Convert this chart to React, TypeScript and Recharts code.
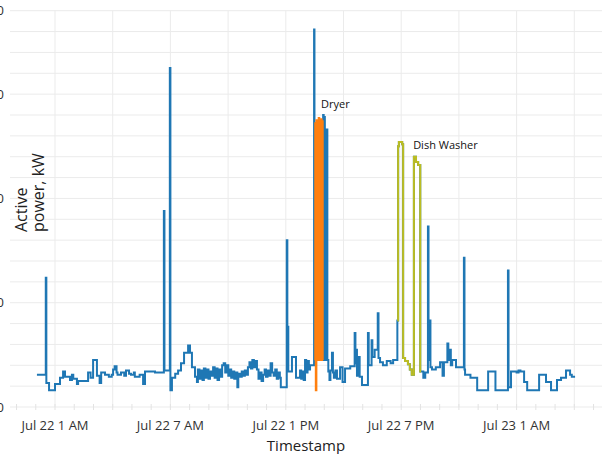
import React from 'react';
import { LineChart, Line, XAxis, YAxis, CartesianGrid, ReferenceLine, ReferenceDot, Label } from 'recharts';

const FONT = '"Open Sans", sans-serif';

// time: hours since Jul 22 00:00 ; power: kW
const nightSeg: [number, number][] = [
  [0.06, 0.31], [0.52, 1.24], [0.55, 0.23], [0.69, 0.16], [1.0, 0.22], [1.26, 0.28], [1.42, 0.34], [1.52, 0.29],
  [1.78, 0.26], [1.88, 0.31], [1.95, 0.27], [2.14, 0.22], [2.2, 0.25], [2.72, 0.33], [2.85, 0.28], [2.98, 0.45],
  [3.18, 0.3], [3.32, 0.23], [3.4, 0.33], [3.6, 0.31], [3.8, 0.29], [3.95, 0.31], [4.02, 0.36], [4.1, 0.39],
  [4.2, 0.33], [4.25, 0.31], [4.43, 0.33], [4.6, 0.3], [4.69, 0.35], [4.85, 0.32], [4.95, 0.31], [5.1, 0.33],
  [5.15, 0.29], [5.4, 0.31], [5.58, 0.22], [5.68, 0.34], [6.2, 0.33], [6.66, 1.88], [6.69, 0.35], [6.97, 3.25],
  [7.0, 0.16], [7.08, 0.28], [7.25, 0.32], [7.4, 0.35], [7.55, 0.42], [7.71, 0.52], [7.92, 0.59], [8.02, 0.52],
  [8.12, 0.38], [8.28, 0.29], [8.38, 0.24],
];

const daySeg: [number, number][] = [
  [8.43, 0.36], [8.51, 0.27], [8.59, 0.35], [8.67, 0.26], [8.74, 0.37], [8.82, 0.28], [8.9, 0.36], [8.98, 0.27],
  [9.06, 0.34], [9.14, 0.3], [9.22, 0.38], [9.3, 0.28], [9.37, 0.37], [9.45, 0.26], [9.53, 0.36], [9.61, 0.29],
  [9.69, 0.4], [9.77, 0.42], [9.85, 0.33], [9.93, 0.4], [10.01, 0.3], [10.08, 0.36], [10.16, 0.28], [10.24, 0.34],
  [10.32, 0.27], [10.4, 0.33], [10.48, 0.19], [10.53, 0.32], [10.63, 0.29], [10.71, 0.34], [10.79, 0.3], [10.87, 0.35],
  [10.95, 0.31], [11.03, 0.38], [11.11, 0.43], [11.19, 0.37], [11.26, 0.45], [11.34, 0.38], [11.42, 0.44], [11.5, 0.36],
  [11.58, 0.27], [11.66, 0.33], [11.74, 0.25], [11.82, 0.31], [11.9, 0.36], [11.97, 0.29], [12.05, 0.35], [12.13, 0.3],
  [12.21, 0.42], [12.29, 0.33], [12.37, 0.3], [12.45, 0.36], [12.53, 0.27], [12.61, 0.33], [12.69, 0.28], [12.74, 0.19],
  [13.05, 1.6], [13.08, 0.34], [13.1, 0.77], [13.13, 0.34], [13.32, 0.48], [13.53, 0.28], [13.74, 0.35], [13.8, 0.27],
  [13.87, 0.34], [13.93, 0.26], [14.0, 0.45], [14.06, 0.33], [14.13, 0.44], [14.2, 0.36], [14.26, 0.4],
];

const dryerTotalSeg: [number, number][] = [
  [14.47, 3.62], [14.49, 0.45], [14.52, 2.7], [14.55, 0.45], [14.58, 2.72], [14.61, 0.45], [14.64, 2.71], [14.67, 0.45],
  [14.7, 2.74], [14.73, 0.45], [14.76, 2.7], [14.79, 0.45], [14.82, 2.73], [14.85, 0.45], [14.88, 2.72], [14.91, 0.45],
  [14.94, 2.8], [14.97, 0.46], [15.0, 2.78], [15.03, 0.45], [15.06, 2.66], [15.09, 0.46], [15.12, 2.66], [15.16, 0.45],
];

const afternoonSeg: [number, number][] = [
  [15.21, 0.34], [15.27, 0.26], [15.32, 0.35], [15.4, 0.52], [15.45, 0.33], [15.5, 0.28], [15.58, 0.35], [15.66, 0.27],
  [15.82, 0.38], [15.95, 0.24], [16.08, 0.37], [16.35, 0.39], [16.58, 0.71], [16.62, 0.42], [16.66, 0.55], [16.7, 0.3],
  [16.78, 0.48], [16.84, 0.29], [16.96, 0.21], [17.27, 0.71], [17.31, 0.4], [17.46, 0.64], [17.5, 0.48], [17.62, 0.55],
  [17.78, 0.9], [17.82, 0.47], [17.9, 0.43], [18.05, 0.4], [18.25, 0.44], [18.45, 0.42], [18.58, 0.45],
];

const washerSeg: [number, number][] = [
  [18.8, 0.83], [18.84, 2.5], [18.88, 2.54], [19.05, 2.52], [19.1, 0.47], [19.2, 0.44], [19.35, 0.41], [19.45, 0.36],
  [19.55, 0.31], [19.66, 2.4], [19.77, 2.35], [19.88, 2.32], [19.99, 0.34], [20.03, 0.34],
];

const eveningSeg: [number, number][] = [
  [20.15, 0.28], [20.25, 0.33], [20.39, 1.73], [20.42, 0.45], [20.48, 0.83], [20.52, 0.38], [20.6, 0.36], [20.8, 0.38],
  [21.02, 0.43], [21.15, 0.3], [21.22, 0.43], [21.4, 0.61], [21.45, 0.45], [21.52, 0.55], [21.58, 0.4], [21.65, 0.45],
  [21.85, 0.38], [22.26, 1.43], [22.29, 0.36], [22.32, 0.31], [22.6, 0.28], [22.95, 0.16], [23.52, 0.34], [23.9, 0.16],
  [24.55, 1.31], [24.58, 0.19], [24.71, 0.34], [25.0, 0.33], [25.1, 0.35], [25.2, 0.34], [25.39, 0.24], [25.55, 0.16],
  [26.17, 0.31], [26.53, 0.24], [26.79, 0.16], [27.1, 0.26], [27.31, 0.28], [27.57, 0.35], [27.78, 0.31], [27.87, 0.29],
  [28.04, 0.29],
];

const dryerSeg: [number, number][] = [
  [14.5, 0.45], [14.53, 2.72], [14.56, 0.16], [14.59, 2.75], [14.62, 0.46], [14.65, 2.73], [14.68, 0.45], [14.71, 2.77],
  [14.74, 0.46], [14.77, 2.72], [14.8, 0.45], [14.83, 2.76], [14.86, 0.46], [14.89, 2.74], [14.92, 0.45], [14.94, 0.45],
];

const hourTicks = [-1, 0, 1, 2, 3, 4, 5, 6, 7, 8, 9, 10, 11, 12, 13, 14, 15, 16, 17, 18, 19, 20, 21, 22, 23, 24, 25, 26, 27, 28, 29];
const gridHours = [1, 4, 7, 10, 13, 16, 19, 22, 25, 28];
const labelHours = [1, 7, 13, 19, 25];
const labelTexts = ['Jul 22 1 AM', 'Jul 22 7 AM', 'Jul 22 1 PM', 'Jul 22 7 PM', 'Jul 23 1 AM'];
const powerTicks = [0, 0.2, 0.4, 0.6, 0.8, 1, 1.2, 1.4, 1.6, 1.8, 2, 2.2, 2.4, 2.6, 2.8, 3, 3.2, 3.4, 3.6, 3.8];
const powerLabelValues = [0, 1, 2, 3, 3.8];
const powerLabelTexts = ['0', '1000', '2000', '3000', '3800'];

const toRows = (arr: [number, number][]) => arr.map(([t, p]) => ({ t, p }));
const totalData = toRows([...nightSeg, ...daySeg, ...dryerTotalSeg, ...afternoonSeg, ...washerSeg, ...eveningSeg]);
const dryerData = toRows(dryerSeg);
const washerData = toRows(washerSeg);

const XTick = (props: any) => {
  const { x, y, payload } = props;
  const idx = labelHours.indexOf(payload.value);
  return (
    <g>
      <line x1={x} x2={x} y1={y - 3} y2={y + 3} stroke="#e3e3e3" strokeWidth={1} />
      {idx >= 0 && (
        <text x={x} y={y + 23} textAnchor="middle" fontFamily={FONT} fontSize={13} fill="#333">
          {labelTexts[idx]}
        </text>
      )}
    </g>
  );
};

const YTick = (props: any) => {
  const { x, y, payload } = props;
  const idx = powerLabelValues.findIndex((v) => Math.abs(v - payload.value) < 1e-6);
  if (idx < 0) return <g />;
  return (
    <text x={x} y={y} dy={4.5} textAnchor="end" fontFamily={FONT} fontSize={13} fill="#333">
      {powerLabelTexts[idx]}
    </text>
  );
};

const YTitle = () => (
  <g fontFamily={FONT} fontSize={16} fill="#222">
    <text x={27} y={232} transform="rotate(-90 27 232)" textAnchor="start">Active</text>
    <text x={44} y={232} transform="rotate(-90 44 232)" textAnchor="start">power, kW</text>
  </g>
);

export default function App() {
  return (
    <div style={{ position: 'absolute', left: 0, top: 0 }}>
      <LineChart width={605} height={454} margin={{ top: 10.7, right: 3, bottom: 0, left: 0 }}>
        <CartesianGrid vertical={false} stroke="#ebebeb" />
        <XAxis
          dataKey="t"
          type="number"
          domain={[-1.34, 29.44]}
          allowDataOverflow
          ticks={hourTicks}
          interval={0}
          tick={<XTick />}
          tickLine={false}
          axisLine={false}
          tickSize={0}
          tickMargin={0}
          height={47}
        >
          <Label value="Timestamp" position="insideBottom" offset={3} style={{ fontFamily: FONT, fontSize: 15, fill: '#222' }} />
        </XAxis>
        <YAxis
          type="number"
          domain={[0, 3.8]}
          ticks={powerTicks}
          interval={0}
          width={10}
          tick={<YTick />}
          tickLine={false}
          axisLine={false}
          tickSize={0}
          tickMargin={6}
        >
          <Label content={<YTitle />} />
        </YAxis>
        {gridHours.map((h) => (
          <ReferenceLine key={h} x={h} stroke="#ebebeb" strokeWidth={1} />
        ))}
        <Line data={totalData} dataKey="p" type="stepAfter" stroke="#1f77b4" strokeWidth={2} dot={false} isAnimationActive={false} />
        <Line data={dryerData} dataKey="p" type="stepAfter" stroke="#ff7f0e" strokeWidth={2} dot={false} isAnimationActive={false} />
        <Line data={washerData} dataKey="p" type="stepAfter" stroke="#bcbd22" strokeWidth={2} dot={false} isAnimationActive={false} />
        <ReferenceDot x={14.83} y={2.9} r={0} fill="none" stroke="none"
          label={{ value: 'Dryer', position: 'right', offset: 0, style: { fontFamily: FONT, fontSize: 11, fill: '#111' } }} />
        <ReferenceDot x={19.62} y={2.51} r={0} fill="none" stroke="none"
          label={{ value: 'Dish Washer', position: 'right', offset: 0, style: { fontFamily: FONT, fontSize: 11, fill: '#111' } }} />
      </LineChart>
    </div>
  );
}
